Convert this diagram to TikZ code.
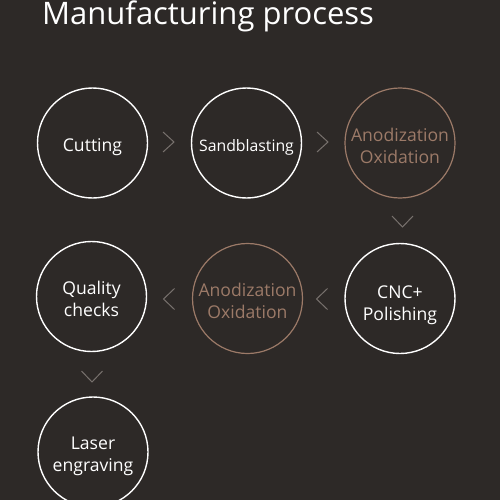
\documentclass[tikz,border=0pt]{standalone}
\usepackage{fontspec}
\setmainfont{Open Sans}[Ligatures=NoCommon]
\usetikzlibrary{calc}
\definecolor{bg}{HTML}{2D2927}
\definecolor{brown}{HTML}{9C7A68}
\definecolor{chev}{HTML}{77716D}
\begin{document}
\begin{tikzpicture}[x=1pt,y=-1pt,
  stepcircle/.style={circle,draw=white,line width=1.4pt,minimum size=110pt,inner sep=0pt},
  browncircle/.style={stepcircle,draw=brown,line width=1.2pt},
  steptext/.style={anchor=base,text=white,font=\fontsize{17.6}{21.5}\selectfont,align=center,inner sep=0pt},
  browntext/.style={steptext,text=brown},
  chevline/.style={draw=chev,line width=1pt}]
\fill[bg] (0,0) rectangle (500,500);
\useasboundingbox (0,0) rectangle (500,500);
\node[anchor=base west,text=white,font=\fontsize{31}{36}\selectfont,inner sep=0pt] (title) at (42,25) {Manufacturing process};
\node[stepcircle] (cut) at (92.5,143) {};
\node[stepcircle] (sand) at (246.5,143) {};
\node[browncircle] (ano1) at (400,143) {};
\node[stepcircle] (cnc) at (400,298.5) {};
\node[browncircle] (ano2) at (247.5,298.5) {};
\node[stepcircle] (qc) at (91.5,296.5) {};
\node[stepcircle] (laser) at (93,452) {};
\node[steptext] (cutt) at ($(cut)+(0,8)$) {Cutting};
\node[steptext,font=\fontsize{15.8}{20}\selectfont] (sandt) at ($(sand)+(0,8.5)$) {Sandblasting};
\node[browntext] (ano1t) at ($(ano1)+(0,20)$) {Anodization\\Oxidation};
\node[steptext] (cnct) at ($(cnc)+(0,21.5)$) {CNC+\\Polishing};
\node[browntext] (ano2t) at ($(ano2)+(0,19.5)$) {Anodization\\Oxidation};
\node[steptext] (qct) at ($(qc)+(0,19.5)$) {Quality\\checks};
\node[steptext] (lasert) at ($(laser)+(0,19)$) {Laser\\engraving};
% chevrons
\coordinate (c1) at (168.5,142);
\coordinate (c2) at (322.5,142);
\coordinate (c3) at (402.5,221.5);
\coordinate (c4) at (322,299);
\coordinate (c5) at (169,299);
\coordinate (c6) at (92,376.5);
\draw[chevline] ([shift={(-5.5,-10)}]c1) -- ([shift={(5.5,0)}]c1) -- ([shift={(-5.5,10)}]c1);
\draw[chevline] ([shift={(-5.5,-10)}]c2) -- ([shift={(5.5,0)}]c2) -- ([shift={(-5.5,10)}]c2);
\draw[chevline] ([shift={(-10.5,-5.5)}]c3) -- ([shift={(0,5.5)}]c3) -- ([shift={(10.5,-5.5)}]c3);
\draw[chevline] ([shift={(5.5,-10.5)}]c4) -- ([shift={(-5.5,0)}]c4) -- ([shift={(5.5,10.5)}]c4);
\draw[chevline] ([shift={(5.5,-10.5)}]c5) -- ([shift={(-5.5,0)}]c5) -- ([shift={(5.5,10.5)}]c5);
\draw[chevline] ([shift={(-10.5,-5.5)}]c6) -- ([shift={(0,5.5)}]c6) -- ([shift={(10.5,-5.5)}]c6);
\end{tikzpicture}
\end{document}
